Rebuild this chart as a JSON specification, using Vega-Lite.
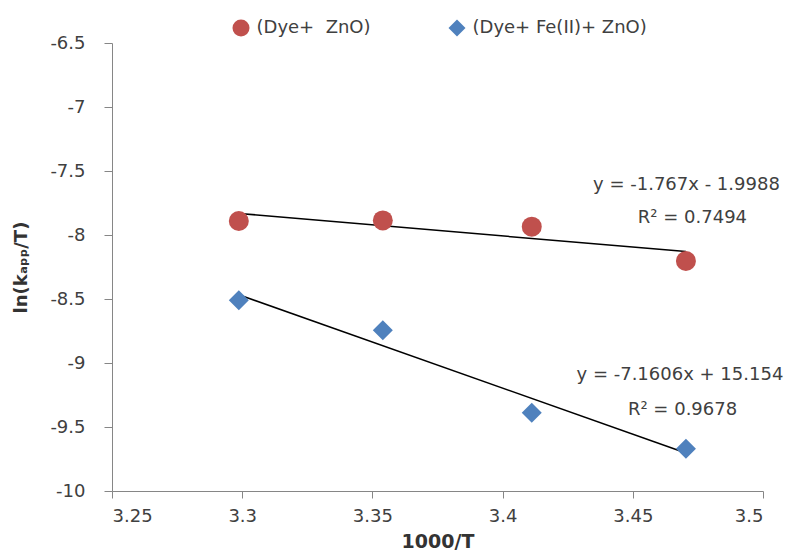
{
  "$schema": "https://vega.github.io/schema/vega-lite/v6.json",
  "width": 651,
  "height": 448,
  "autosize": {"type": "none"},
  "padding": {"left": 112, "top": 43, "right": 35, "bottom": 63},
  "background": "white",
  "config": {"view": {"stroke": null}, "font": "DejaVu Sans"},
  "datasets": {
    "points": [
      {"series": "(Dye+\u00a0 ZnO)", "x": 3.2987, "y": -7.891},
      {"series": "(Dye+\u00a0 ZnO)", "x": 3.3540, "y": -7.886},
      {"series": "(Dye+\u00a0 ZnO)", "x": 3.4112, "y": -7.935},
      {"series": "(Dye+\u00a0 ZnO)", "x": 3.4704, "y": -8.203},
      {"series": "(Dye+ Fe(II)+ ZnO)", "x": 3.2987, "y": -8.510},
      {"series": "(Dye+ Fe(II)+ ZnO)", "x": 3.3540, "y": -8.745},
      {"series": "(Dye+ Fe(II)+ ZnO)", "x": 3.4112, "y": -9.388},
      {"series": "(Dye+ Fe(II)+ ZnO)", "x": 3.4704, "y": -9.669}
    ],
    "labels": [
      {"x": 3.4706, "y": -7.609, "text": "y = -1.767x - 1.9988"},
      {"x": 3.4729, "y": -7.867, "text": "R² = 0.7494"},
      {"x": 3.4681, "y": -9.094, "text": "y = -7.1606x + 15.154"},
      {"x": 3.4691, "y": -9.367, "text": "R² = 0.9678"}
    ]
  },
  "encoding": {
    "x": {
      "field": "x",
      "type": "quantitative",
      "scale": {"domain": [3.25, 3.5], "nice": false, "zero": false},
      "axis": {
        "title": "1000/T",
        "values": [3.25, 3.3, 3.35, 3.4, 3.45, 3.5],
        "labelExpr": "'' + datum.value",
        "grid": false,
        "domainColor": "#868686",
        "tickColor": "#868686",
        "tickSize": 7,
        "labelPadding": 9,
        "labelFont": "DejaVu Sans",
        "labelFontSize": 18,
        "labelColor": "#404040",
        "titleFont": "DejaVu Sans",
        "titleFontSize": 19,
        "titleFontWeight": "bold",
        "titleColor": "#333333",
        "titleY": 50,
        "titleBaseline": "middle"
      }
    },
    "y": {
      "field": "y",
      "type": "quantitative",
      "scale": {"domain": [-10, -6.5], "nice": false, "zero": false},
      "axis": {
        "title": "ln(kₐₚₚ/T)",
        "values": [-10, -9.5, -9, -8.5, -8, -7.5, -7, -6.5],
        "labelExpr": "'' + datum.value",
        "grid": false,
        "domainColor": "#868686",
        "tickColor": "#868686",
        "tickSize": 8,
        "labelPadding": 19,
        "labelFont": "DejaVu Sans",
        "labelFontSize": 18,
        "labelColor": "#404040",
        "titleFont": "DejaVu Sans",
        "titleFontSize": 18,
        "titleFontWeight": "bold",
        "titleColor": "#333333",
        "titleX": -91,
        "titleBaseline": "middle"
      }
    }
  },
  "layer": [
    {
      "data": {"name": "points"},
      "transform": [{"regression": "y", "on": "x", "groupby": ["series"]}],
      "mark": {"type": "line", "color": "#000000", "strokeWidth": 1.5},
      "encoding": {"detail": {"field": "series"}}
    },
    {
      "data": {"name": "points"},
      "mark": {"type": "point", "filled": true, "size": 400, "opacity": 1},
      "encoding": {
        "color": {
          "field": "series",
          "type": "nominal",
          "scale": {"domain": ["(Dye+\u00a0 ZnO)", "(Dye+ Fe(II)+ ZnO)"], "range": ["#C0504D", "#4F81BD"]},
          "legend": {"orient": "none", "legendX": 119.5, "legendY": -25, "direction": "horizontal", "title": null, "labelFont": "DejaVu Sans", "labelFontSize": 18, "labelColor": "#404040", "labelLimit": 400, "symbolSize": 290, "labelOffset": 6, "columnPadding": 73, "symbolOpacity": 1, "padding": 0}
        },
        "shape": {
          "field": "series",
          "type": "nominal",
          "scale": {"domain": ["(Dye+\u00a0 ZnO)", "(Dye+ Fe(II)+ ZnO)"], "range": ["circle", "diamond"]},
          "legend": {"orient": "none", "legendX": 119.5, "legendY": -25, "direction": "horizontal", "title": null, "labelFont": "DejaVu Sans", "labelFontSize": 18, "labelColor": "#404040", "labelLimit": 400, "symbolSize": 290, "labelOffset": 6, "columnPadding": 73, "symbolOpacity": 1, "padding": 0}
        }
      }
    },
    {
      "data": {"name": "labels"},
      "mark": {"type": "text", "font": "DejaVu Sans", "fontSize": 18, "color": "#404040", "align": "center", "baseline": "middle"},
      "encoding": {"text": {"field": "text"}}
    }
  ]
}
